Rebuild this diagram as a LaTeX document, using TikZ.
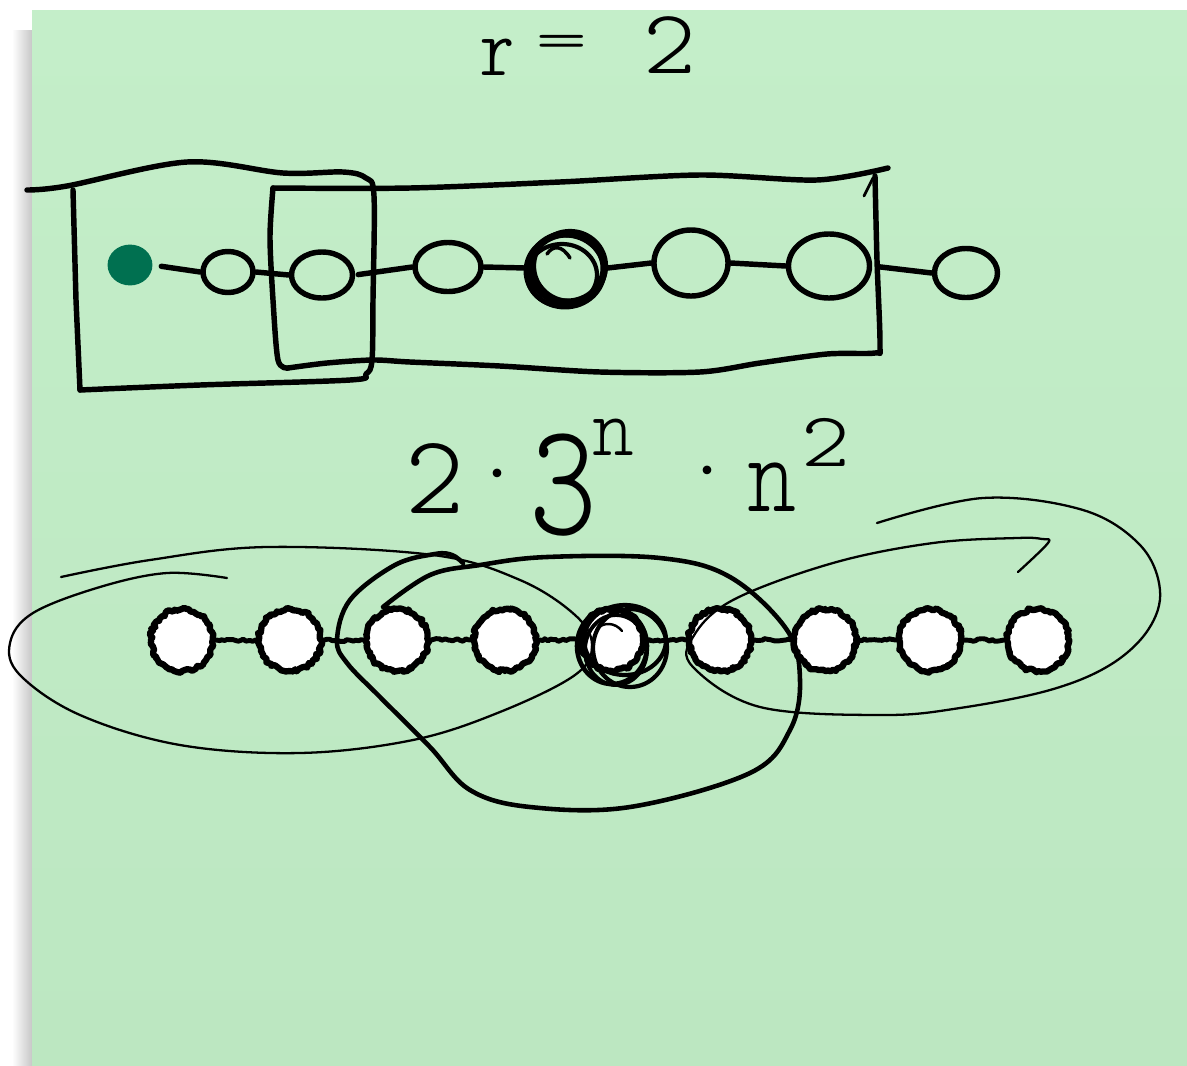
\documentclass[tikz,border=0pt]{standalone}
\usepackage{fontspec}
\newfontfamily\handfont[Extension=.otf]{lmmonoproplt10-regular}
\usetikzlibrary{shapes.geometric,decorations.pathmorphing}
\definecolor{notetop}{RGB}{196,238,201}
\definecolor{notebot}{RGB}{188,231,193}
\definecolor{dotgreen}{RGB}{0,112,80}
\begin{document}
\pgfmathsetseed{7}
\begin{tikzpicture}[x=0.01cm,y=-0.01cm,line cap=round,line join=round,
  pen/.style={line width=1.55pt},
  thinpen/.style={line width=0.65pt},
  midpen/.style={line width=1.3pt},
  topnode/.style={ellipse,draw,pen,inner sep=0pt},
  botnode/.style={circle,draw,fill=white,line width=1.8pt,inner sep=0pt,minimum size=0.62cm,
    decorate,decoration={random steps,segment length=0.7pt,amplitude=0.45pt}},
  botedge/.style={line width=1.4pt,decorate,decoration={random steps,segment length=0.8pt,amplitude=0.4pt}},
  hand/.style={inner sep=0pt,text=black}
]
\useasboundingbox (0,0) rectangle (1187,1066);
\fill[white] (0,0) rectangle (1187,1066);
\shade[left color=white,right color=black!22] (12,30) rectangle (32,1066);
\shade[top color=notetop,bottom color=notebot] (32,10) rectangle (1187,1066);

% ---------- title ----------
\node[hand,font=\handfont\fontsize{24}{28}\selectfont] (rr) at (498,57) {r};
\node[hand,font=\handfont\fontsize{16}{20}\selectfont,xscale=1.1] (eq) at (562,47) {=};
\node[hand,font=\handfont\bfseries\fontsize{26}{30}\selectfont,xscale=1.1] (two) at (670,45) {2};

% ---------- top row ----------
\node[ellipse,fill=dotgreen,draw=dotgreen,line width=0.8pt,inner sep=0pt,minimum width=0.42cm,minimum height=0.38cm] (t1) at (130,265) {};
\node[topnode,minimum width=0.50cm,minimum height=0.41cm] (t2) at (228,272) {};
\node[topnode,minimum width=0.61cm,minimum height=0.46cm] (t3) at (322,275) {};
\node[topnode,minimum width=0.66cm,minimum height=0.49cm] (t4) at (448,267) {};
\node[topnode,line width=2pt,minimum width=0.74cm,minimum height=0.68cm] (t5) at (567,268) {};
\node[topnode,minimum width=0.74cm,minimum height=0.66cm] (t6) at (691,263) {};
\node[topnode,minimum width=0.81cm,minimum height=0.64cm] (t7) at (829,266) {};
\node[topnode,minimum width=0.63cm,minimum height=0.49cm] (t8) at (966,273) {};
\draw[line width=1.4pt] (565,271) ellipse (39 and 36);
\draw[line width=1.2pt] (570,266) ellipse (36 and 35);
\draw[line width=1.2pt] (562,275) ellipse (35 and 31);
\draw[line width=1pt] (547,254) .. controls (553,245) and (562,245) .. (570,258);
\draw[pen,shorten <=0.09cm] (t1.east) -- (t2.west);
\draw[pen] (t2.east) -- (t3.west);
\draw[pen,shorten <=0.03cm] (t3.east) -- (t4.west);
\draw[pen,shorten >=0.03cm] (t4.east) -- (t5.west);
\draw[pen] (t5.east) -- (t6.west);
\draw[pen] (t6.east) -- (t7.west);
\draw[pen,shorten <=0.06cm] (t7.east) -- (t8.west);

% ---------- boxes ----------
\draw[pen] plot[smooth,tension=0.55] coordinates {(27,190) (67,186) (187,162) (283,173) (343,172) (366,178) (374,196) (373,300) (372,360) (366,374) (350,380) (200,385) (80,390)};
\draw[pen] (73,190) -- (76,300) -- (80,390);
\draw[pen] plot[smooth,tension=0.5] coordinates {(288,368) (278,360) (273,300) (270,237) (273,188)};
\draw[pen] plot[smooth,tension=0.5] coordinates {(273,188) (410,188) (560,182) (700,175) (817,180) (888,168)};
\draw[pen] plot[smooth,tension=0.5] coordinates {(875,176) (877,260) (880,345) (875,353) (827,354) (760,363) (700,372) (600,372) (500,366) (410,362) (373,360) (327,363) (288,368)};
\draw[line width=0.8pt] (864,196) -- (873,178);

% ---------- formula ----------
\node[hand,font=\handfont\fontsize{32}{36}\selectfont] (f2) at (435,478) {2};
\node[hand,font=\fontsize{30}{34}\selectfont,anchor=base] (fd1) at (497,509) {·};
\node[hand,font=\handfont\fontsize{46}{50}\selectfont,xscale=0.8] (f3) at (563,485) {3};
\node[hand,font=\handfont\fontsize{24}{28}\selectfont,xscale=0.85] (fn1) at (613,437) {n};
\node[hand,font=\fontsize{30}{34}\selectfont,anchor=base] (fd2) at (707,506) {·};
\node[hand,font=\handfont\fontsize{32}{36}\selectfont,xscale=0.75] (fn2) at (772,487) {n};
\node[hand,font=\handfont\fontsize{22}{26}\selectfont,xscale=1.2] (f22) at (826,442) {2};

% ---------- bottom row ----------
\node[botnode] (b1) at (182,640) {};
\node[botnode] (b2) at (290,640) {};
\node[botnode] (b3) at (397,640) {};
\node[botnode] (b4) at (505,640) {};
\node[botnode] (b5) at (612,640) {};
\node[botnode] (b6) at (720,640) {};
\node[botnode] (b7) at (825,640) {};
\node[botnode] (b8) at (930,640) {};
\node[botnode] (b9) at (1038,640) {};
\foreach \a/\b in {b1/b2,b2/b3,b3/b4,b4/b5,b5/b6,b6/b7,b7/b8,b8/b9}
  \draw[botedge] (\a.east) -- (\b.west);

% scribble round the centre node
\draw[line width=1.3pt] (612,646) ellipse (35 and 38);
\draw[line width=1.2pt] (625,640) ellipse (41 and 35);
\draw[line width=1.2pt] (630,648) ellipse (37 and 39);
\draw[line width=1.1pt] (616,650) ellipse (31 and 35);
\draw[line width=0.7pt] (597,629) .. controls (603,622) and (615,622) .. (622,631);

% ---------- loops ----------
\draw[thinpen] plot[smooth,tension=0.6] coordinates {(61,577) (150,560) (267,547) (433,555) (520,580) (575,615) (592,645) (575,675) (500,712) (413,740) (300,753) (180,745) (80,715) (20,675) (10,643) (33,613) (100,587) (167,573) (227,578)};
\draw[midpen] plot[smooth,tension=0.6] coordinates {(383,607) (430,575) (480,565) (547,557) (660,558) (730,577) (787,630) (800,680) (790,730) (750,773) (630,807) (530,807) (470,790) (430,747) (380,697) (347,663) (337,640) (350,600) (395,565) (435,554) (452,555) (463,563)};
\draw[thinpen] plot[smooth,tension=0.6] coordinates {(877,523) (983,498) (1083,510) (1140,545) (1160,590) (1148,630) (1110,665) (1050,690) (960,708) (883,715) (760,707) (693,667) (693,637) (733,600) (833,563) (933,543) (1017,538) (1042,539) (1048,543) (1018,572)};
\end{tikzpicture}
\end{document}
